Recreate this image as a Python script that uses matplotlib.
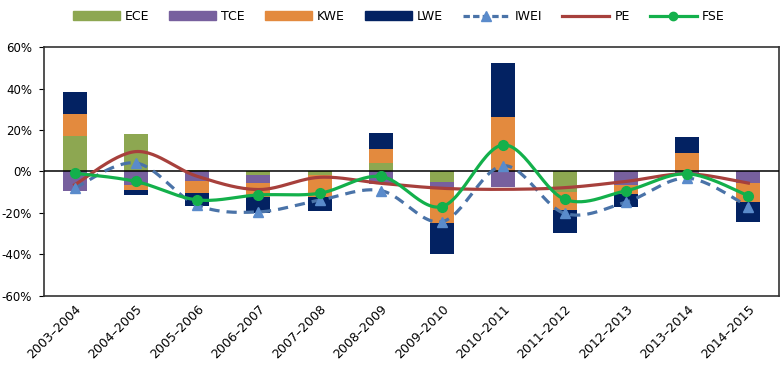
import numpy as np
import matplotlib
matplotlib.use("Agg")
import matplotlib.pyplot as plt
from matplotlib.patches import Patch
from matplotlib.lines import Line2D
from matplotlib.ticker import FuncFormatter

plt.rcParams['font.family'] = ['DejaVu Sans']

# --- Data (percent) ---
periods = ["2003–2004", "2004–2005", "2005–2006", "2006–2007", "2007–2008", "2008–2009",
           "2009–2010", "2010–2011", "2011–2012", "2012–2013", "2013–2014", "2014–2015"]
ece = [17.2, 18.2, 0.8, -1.9, -1.5, 4.0, -5.3, 0.3, -10.0, 0.0, 0.0, 0.0]
tce = [-9.3, -6.5, -4.4, -3.5, -0.3, -6.0, -2.7, -7.3, 0.0, -6.5, -0.5, -5.6]
kwe = [10.5, -2.5, -6.1, -6.8, -10.5, 7.0, -16.6, 25.9, -8.6, -4.5, 8.9, -8.9]
lwe = [10.7, -2.4, -6.0, -8.0, -6.8, 7.5, -15.2, 26.3, -10.9, -6.3, 7.7, -9.7]
iwei = [-8.0, 4.1, -16.2, -19.5, -13.8, -9.2, -24.2, 2.8, -20.2, -14.8, -3.2, -16.9]
pe = [-6.4, 9.6, -2.3, -8.7, -2.8, -5.7, -8.1, -8.6, -7.8, -4.8, -1.1, -5.6]
fse = [-0.8, -4.8, -13.7, -11.3, -10.5, -2.4, -16.9, 12.8, -13.4, -9.3, -1.1, -11.7]

bar_series = [("ECE", ece, "#8DA751"), ("TCE", tce, "#77609E"),
              ("KWE", kwe, "#E38A3E"), ("LWE", lwe, "#032262")]


def smooth(x, y, n=30):
    # Excel-like smoothed line (Catmull-Rom style bezier)
    pts = np.column_stack([x, y]).astype(float)
    out = []
    for i in range(len(pts) - 1):
        p0 = pts[i - 1] if i > 0 else pts[i]
        p1, p2 = pts[i], pts[i + 1]
        p3 = pts[i + 2] if i + 2 < len(pts) else pts[i + 1]
        c1 = p1 + (p2 - p0) / 6
        c2 = p2 - (p3 - p1) / 6
        t = np.linspace(0, 1, n)[:, None]
        seg = ((1 - t) ** 3) * p1 + 3 * ((1 - t) ** 2) * t * c1 + 3 * (1 - t) * t ** 2 * c2 + t ** 3 * p2
        out.append(seg if i == 0 else seg[1:])
    seg = np.vstack(out)
    return seg[:, 0], seg[:, 1]


fig = plt.figure(figsize=(7.83, 3.69), dpi=100)
ax = fig.add_axes([0.0562, 0.198, 0.9387, 0.6745])

x = np.arange(len(periods))
pos_bottom = np.zeros(len(x))
neg_bottom = np.zeros(len(x))
for name, vals, col in bar_series:
    v = np.array(vals, dtype=float)
    bottoms = np.where(v >= 0, pos_bottom, neg_bottom)
    ax.bar(x, v, width=0.39, bottom=bottoms, color=col, zorder=2)
    pos_bottom += np.where(v >= 0, v, 0)
    neg_bottom += np.where(v < 0, v, 0)

ax.axhline(0, color="black", lw=1.1, zorder=3)

sx, sy = smooth(x, iwei)
ax.plot(sx, sy, color="#4A73A8", lw=2.3, dashes=(3.2, 2.2), zorder=4)
ax.plot(x, iwei, ls="none", marker="^", ms=7.5, color="#5A8BCB", zorder=5)

sx, sy = smooth(x, pe)
ax.plot(sx, sy, color="#A7403C", lw=2.3, zorder=4)

sx, sy = smooth(x, fse)
ax.plot(sx, sy, color="#13B04B", lw=2.3, zorder=6)
ax.plot(x, fse, ls="none", marker="o", ms=7, color="#13B04B", zorder=7)

ax.set_xlim(-0.5, len(x) - 0.5)
ax.set_ylim(-60, 60)
ax.set_yticks(np.arange(-60, 61, 20))
ax.yaxis.set_major_formatter(FuncFormatter(lambda v, p: f"{v:.0f}%"))
ax.set_xticks(x)
ax.set_xticklabels(periods, rotation=45, ha="right", rotation_mode="anchor", fontsize=9)
ax.tick_params(axis="x", length=0, pad=5)
ax.tick_params(axis="y", length=3.5, labelsize=8.5, pad=5)
for s in ax.spines.values():
    s.set_color("#333333")
    s.set_linewidth(1.2)

handles = [Patch(color=c) for _, _, c in bar_series] + [
    Line2D([], [], color="#4A73A8", lw=2.3, dashes=(2, 1), marker="^", ms=7, mfc="#5A8BCB", mec="#5A8BCB"),
    Line2D([], [], color="#A7403C", lw=2.3),
    Line2D([], [], color="#13B04B", lw=2.3, marker="o", ms=6),
]
labels = [n for n, _, _ in bar_series] + ["IWEI", "PE", "FSE"]
fig.legend(handles, labels, loc="center", bbox_to_anchor=(0.509, 0.955), ncol=7,
           frameon=False, fontsize=9, handlelength=3.76, handleheight=0.7,
           handletextpad=0.4, columnspacing=1.6)

fig.savefig("out.png", dpi=100)
